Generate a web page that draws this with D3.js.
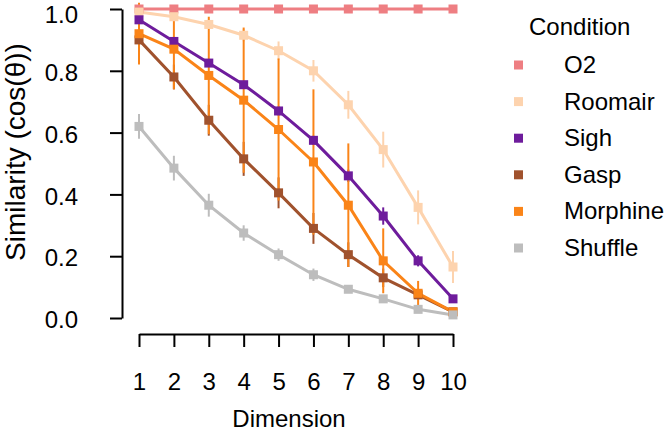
<!DOCTYPE html>
<html>
<head>
<meta charset="utf-8">
<script src="https://cdn.jsdelivr.net/npm/d3@7"></script>
<style>
  html, body { margin: 0; padding: 0; background: #fff; }
  svg { display: block; font-family: "Liberation Sans", Arial, sans-serif; }
</style>
</head>
<body>
<svg id="chart" width="668" height="432"></svg>
<script>
const dimensions = [1, 2, 3, 4, 5, 6, 7, 8, 9, 10];
const conditions = ["O2", "Roomair", "Sigh", "Gasp", "Morphine", "Shuffle"];
const colors = ["#EE7E82", "#FDD3AE", "#6E1C9C", "#A0522D", "#FA8418", "#BDBDBD"];
const yTicks = [0.0, 0.2, 0.4, 0.6, 0.8, 1.0];

const o2Mean       = [1.0, 1.0, 1.0, 1.0, 1.0, 1.0, 1.0, 1.0, 1.0, 1.0];
const o2Err        = [0.002, 0.002, 0.002, 0.002, 0.002, 0.002, 0.002, 0.002, 0.002, 0.002];
const roomairMean  = [0.99, 0.975, 0.95, 0.915, 0.865, 0.80, 0.69, 0.545, 0.358, 0.165];
const roomairErr   = [0.01, 0.015, 0.015, 0.02, 0.03, 0.035, 0.045, 0.058, 0.055, 0.052];
const sighMean     = [0.965, 0.895, 0.825, 0.755, 0.67, 0.575, 0.46, 0.33, 0.185, 0.062];
const sighErr      = [0.015, 0.012, 0.012, 0.012, 0.015, 0.015, 0.02, 0.028, 0.018, 0.01];
const gaspMean     = [0.90, 0.78, 0.64, 0.515, 0.405, 0.29, 0.205, 0.13, 0.075, 0.02];
const gaspErr      = [0.03, 0.04, 0.05, 0.055, 0.05, 0.05, 0.04, 0.03, 0.015, 0.01];
const morphineMean = [0.92, 0.87, 0.785, 0.705, 0.61, 0.505, 0.365, 0.185, 0.08, 0.02];
const morphineErr  = [0.10, 0.13, 0.19, 0.235, 0.23, 0.235, 0.20, 0.105, 0.04, 0.01];
const shuffleMean  = [0.62, 0.485, 0.365, 0.275, 0.205, 0.14, 0.093, 0.062, 0.028, 0.01];
const shuffleErr   = [0.04, 0.04, 0.037, 0.025, 0.02, 0.02, 0.012, 0.01, 0.008, 0.008];

const means = [o2Mean, roomairMean, sighMean, gaspMean, morphineMean, shuffleMean];
const errs  = [o2Err, roomairErr, sighErr, gaspErr, morphineErr, shuffleErr];

const series = conditions.map((name, i) => ({
  name, color: colors[i],
  values: dimensions.map((d, j) => ({ d, m: means[i][j], e: errs[i][j] }))
}));

const svg = d3.select("#chart");
const x = d3.scaleLinear().domain([1, 10]).range([139, 453]);
const y = d3.scaleLinear().domain([0, 1]).range([318, 9]);
const FS = 24;

// Y axis
const yAxis = svg.append("g").attr("transform", "translate(122,0)")
  .call(d3.axisLeft(y).tickValues(yTicks).tickFormat(d3.format(".1f"))
        .tickSize(12).tickSizeOuter(0).tickPadding(32));
// X axis
const xAxis = svg.append("g").attr("transform", "translate(0,334)")
  .call(d3.axisBottom(x).tickValues(dimensions).tickFormat(d3.format("d"))
        .tickSize(13).tickSizeOuter(0).tickPadding(26));
[yAxis, xAxis].forEach(a => {
  a.selectAll("path, line").attr("stroke", "#000").attr("stroke-width", 2);
  a.selectAll("text").attr("fill", "#000").style("font-size", FS + "px")
   .style("font-family", '"Liberation Sans", Arial, sans-serif');
});
yAxis.selectAll("text").attr("dy", d => d === 1 ? "0.56em" : "0.4em");

// Axis titles
svg.append("text").attr("x", 289).attr("y", 427).attr("text-anchor", "middle")
  .style("font-size", FS + "px").text("Dimension");
svg.append("text").attr("transform", "translate(25,152) rotate(-90)")
  .attr("text-anchor", "middle").style("font-size", "28px")
  .text("Similarity (cos(θ))");

// Error bars
const gErr = svg.append("g");
series.forEach(s => {
  gErr.selectAll(null).data(s.values).enter().append("line")
    .attr("x1", v => x(v.d)).attr("x2", v => x(v.d))
    .attr("y1", v => y(v.m - v.e)).attr("y2", v => y(v.m + v.e))
    .attr("stroke", s.color).attr("stroke-width", 2);
});
// Lines
const line = d3.line().x(v => x(v.d)).y(v => y(v.m));
const gLine = svg.append("g");
series.forEach(s => {
  gLine.append("path").datum(s.values).attr("d", line)
    .attr("fill", "none").attr("stroke", s.color).attr("stroke-width", 3);
});
// Points
const sz = 9;
const gPt = svg.append("g");
series.forEach(s => {
  gPt.selectAll(null).data(s.values).enter().append("rect")
    .attr("x", v => x(v.d) - sz / 2).attr("y", v => y(v.m) - sz / 2)
    .attr("width", sz).attr("height", sz).attr("fill", s.color);
});

// Legend
const leg = svg.append("g");
leg.append("text").attr("x", 529).attr("y", 35).style("font-size", FS + "px").text("Condition");
const ly = d3.scalePoint().domain(conditions).range([65, 248]);
conditions.forEach((c, i) => {
  leg.append("rect").attr("x", 514).attr("y", ly(c) - 4.5).attr("width", 9).attr("height", 9)
    .attr("fill", colors[i]);
  leg.append("text").attr("x", 564).attr("y", ly(c) + 8).style("font-size", FS + "px").text(c);
});
</script>
</body>
</html>
